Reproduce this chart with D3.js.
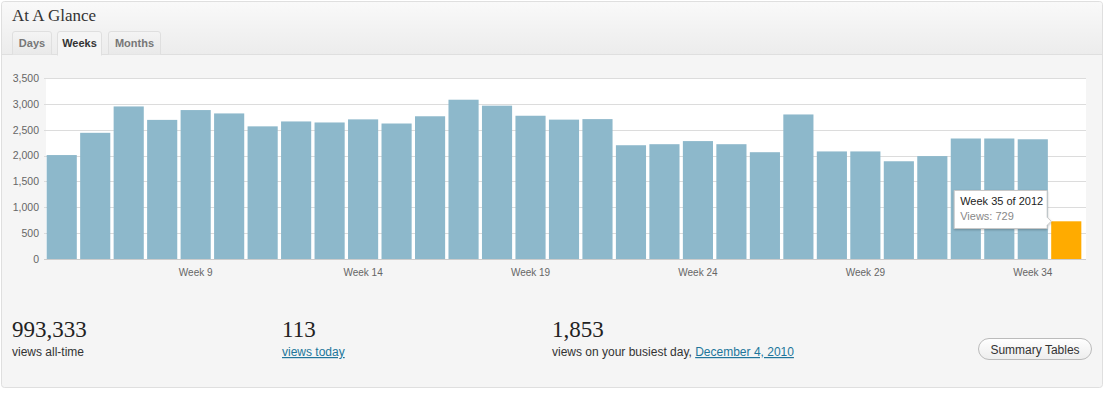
<!DOCTYPE html>
<html>
<head>
<meta charset="utf-8">
<script src="https://cdn.jsdelivr.net/npm/d3@7"></script>
<style>
  body { margin: 0; background: #fff; }
  svg { display: block; }
  .axis--y text, .axis--x text {
    font: 10.5px "Liberation Sans", Arial, sans-serif;
    fill: #666;
  }
  .axis--x text { font-size: 10px; }
  .axis path, .axis line { display: none; }
  .grid line { stroke: #dcdcdc; stroke-width: 1px; shape-rendering: crispEdges; }
  .serif { font-family: "Liberation Serif", Georgia, serif; fill: #222; }
  .sans { font-family: "Liberation Sans", Arial, sans-serif; }
  .link { fill: #21759b; text-decoration: underline; }
</style>
</head>
<body>
<div id="graph"></div>
<script>
// weekly views, week 5 .. week 35 of 2012
var weeks = [5, 6, 7, 8, 9, 10, 11, 12, 13, 14, 15, 16, 17, 18, 19, 20,
             21, 22, 23, 24, 25, 26, 27, 28, 29, 30, 31, 32, 33, 34, 35];
var views = [2010, 2440, 2950, 2690, 2880, 2815, 2565, 2660, 2640, 2700, 2620,
             2760, 3080, 2965, 2770, 2695, 2705, 2200, 2220, 2280, 2220, 2065,
             2795, 2080, 2080, 1890, 1990, 2330, 2330, 2315, 729];
var xTickWeeks = [9, 14, 19, 24, 29, 34];
var yTicks = [0, 500, 1000, 1500, 2000, 2500, 3000, 3500];
var tabs = ['Days', 'Weeks', 'Months'];
var activeTab = 'Weeks';
var highlightWeek = 35;
var stats = [
  {value: '993,333', label: 'views all-time'},
  {value: '113', label: 'views today'},
  {value: '1,853', label: 'views on your busiest day, ', link: 'December 4, 2010'}
];

var W = 1105, H = 393;
var svg = d3.select('#graph').append('svg')
  .attr('width', W).attr('height', H);

var defs = svg.append('defs');
var hg = defs.append('linearGradient').attr('id', 'hdr').attr('x1', 0).attr('x2', 0).attr('y1', 0).attr('y2', 1);
hg.append('stop').attr('offset', '0%').attr('stop-color', '#f9f9f9');
hg.append('stop').attr('offset', '100%').attr('stop-color', '#ececec');
var bg = defs.append('linearGradient').attr('id', 'btn').attr('x1', 0).attr('x2', 0).attr('y1', 0).attr('y2', 1);
bg.append('stop').attr('offset', '0%').attr('stop-color', '#ffffff');
bg.append('stop').attr('offset', '100%').attr('stop-color', '#ededed');
var tg = defs.append('linearGradient').attr('id', 'tab').attr('x1', 0).attr('x2', 0).attr('y1', 0).attr('y2', 1);
tg.append('stop').attr('offset', '0%').attr('stop-color', '#f4f4f4');
tg.append('stop').attr('offset', '100%').attr('stop-color', '#e9e9e9');
var sh = defs.append('filter').attr('id', 'shadow').attr('x', '-20%').attr('y', '-20%').attr('width', '140%').attr('height', '160%');
sh.append('feDropShadow').attr('dx', 0).attr('dy', 1).attr('stdDeviation', 1.2).attr('flood-color', '#000').attr('flood-opacity', 0.25);

// outer box
svg.append('rect')
  .attr('x', 1.5).attr('y', 1.5).attr('width', 1101).attr('height', 386)
  .attr('rx', 3).attr('fill', '#f5f5f5').attr('stroke', '#dfdfdf');
// header
svg.append('path')
  .attr('d', 'M2,55 L2,5 Q2,2 5,2 L1099,2 Q1102,2 1102,5 L1102,55 Z')
  .attr('fill', 'url(#hdr)');
svg.append('line')
  .attr('x1', 2).attr('x2', 1102).attr('y1', 54.5).attr('y2', 54.5)
  .attr('stroke', '#dfdfdf');
svg.append('text').attr('class', 'serif')
  .attr('x', 12).attr('y', 21).style('font-size', '17px').style('fill', '#333')
  .text('At A Glance');

// tabs
var tabX = [12, 57, 108], tabW = [40, 45, 53];
tabs.forEach(function(t, i){
  var x0 = tabX[i] + 0.5, x1 = tabX[i] + tabW[i] - 0.5, act = t === activeTab;
  svg.append('path')
    .attr('d', 'M' + x0 + ',' + (act ? 55.5 : 54.5) + ' L' + x0 + ',34 Q' + x0 + ',31.5 ' + (x0 + 2.5) + ',31.5 L' + (x1 - 2.5) + ',31.5 Q' + x1 + ',31.5 ' + x1 + ',34 L' + x1 + ',' + (act ? 55.5 : 54.5))
    .attr('fill', act ? '#f5f5f5' : 'url(#tab)')
    .attr('stroke', '#dfdfdf');
  svg.append('text').attr('class', 'sans')
    .attr('x', tabX[i] + tabW[i] / 2).attr('y', 47)
    .attr('text-anchor', 'middle')
    .style('font-size', '11px').style('font-weight', 'bold')
    .style('fill', act ? '#333' : '#777')
    .text(t);
});

// chart
var plot = {left: 46, right: 1085, top: 78, bottom: 259};
var x = d3.scaleBand().domain(weeks).range([plot.left, plot.right - 3])
  .paddingInner(0.1).paddingOuter(0.02);
var y = d3.scaleLinear().domain([0, 3500]).range([plot.bottom, plot.top]);

svg.append('rect')
  .attr('x', plot.left).attr('y', plot.top)
  .attr('width', plot.right - plot.left + 1).attr('height', plot.bottom - plot.top)
  .attr('fill', '#fff');

svg.append('g').attr('class', 'grid')
  .selectAll('line').data(yTicks).enter().append('line')
  .attr('x1', plot.left - 2).attr('x2', plot.right + 1)
  .attr('y1', function(d){ return Math.round(y(d)) + 0.5; })
  .attr('y2', function(d){ return Math.round(y(d)) + 0.5; })
  .style('stroke', function(d){ return d === 0 ? '#ccc' : '#dcdcdc'; });

svg.append('g').attr('class', 'axis axis--y')
  .attr('transform', 'translate(' + (plot.left - 7) + ',0)')
  .call(d3.axisLeft(y).tickValues(yTicks).tickFormat(d3.format(',')).tickSize(0).tickPadding(0));

svg.append('g').selectAll('rect').data(weeks).enter().append('rect')
  .attr('x', function(d){ return x(d); })
  .attr('y', function(d, i){ return y(views[i]); })
  .attr('width', x.bandwidth())
  .attr('height', function(d, i){ return plot.bottom - y(views[i]); })
  .attr('fill', function(d){ return d === highlightWeek ? '#ffab00' : '#8db8cb'; });

svg.append('g').attr('class', 'axis axis--x')
  .attr('transform', 'translate(0,' + (plot.bottom + 6) + ')')
  .call(d3.axisBottom(x).tickValues(xTickWeeks).tickFormat(function(d){ return 'Week ' + d; }).tickSize(0).tickPadding(4));

// tooltip on highlighted bar
var hi = weeks.indexOf(highlightWeek);
var tipR = x(highlightWeek) - 4, tipB = 228.5, tipW = 93, tipH = 38;
var tip = svg.append('g');
tip.append('path')
  .attr('d', 'M' + (tipR - tipW) + ',' + (tipB - tipH) + ' L' + tipR + ',' + (tipB - tipH) +
    ' L' + tipR + ',' + (y(views[hi]) - 4) + ' L' + (tipR + 4) + ',' + y(views[hi]) +
    ' L' + tipR + ',' + (y(views[hi]) + 4) + ' L' + tipR + ',' + tipB + ' L' + (tipR - tipW) + ',' + tipB + ' Z')
  .attr('fill', '#fff').attr('stroke', '#c8c8c8').attr('filter', 'url(#shadow)');
tip.append('text').attr('class', 'sans')
  .attr('x', tipR - tipW + 6).attr('y', 205)
  .style('font-size', '11px').style('fill', '#222')
  .text('Week ' + highlightWeek + ' of 2012');
tip.append('text').attr('class', 'sans')
  .attr('x', tipR - tipW + 6).attr('y', 219.5)
  .style('font-size', '11px').style('fill', '#888')
  .text('Views: ' + d3.format(',')(views[hi]));

// summary stats
var statX = [12, 282, 552];
stats.forEach(function(s, i){
  svg.append('text').attr('class', 'serif')
    .attr('x', statX[i]).attr('y', 337)
    .style('font-size', '23px')
    .text(s.value);
  var t = svg.append('text').attr('class', 'sans')
    .attr('x', statX[i]).attr('y', 356)
    .style('font-size', '12px').style('fill', '#333');
  if (i === 1) {
    t.append('tspan').attr('class', 'link').text(s.label);
  } else {
    t.append('tspan').text(s.label);
    if (s.link) t.append('tspan').attr('class', 'link').text(s.link);
  }
});

// button
svg.append('rect')
  .attr('x', 978.5).attr('y', 338.5).attr('width', 113).attr('height', 21).attr('rx', 10.5)
  .attr('fill', 'url(#btn)').attr('stroke', '#bbb');
svg.append('text').attr('class', 'sans')
  .attr('x', 1035).attr('y', 353.5).attr('text-anchor', 'middle')
  .style('font-size', '12px').style('fill', '#333')
  .text('Summary Tables');
</script>
</body>
</html>
